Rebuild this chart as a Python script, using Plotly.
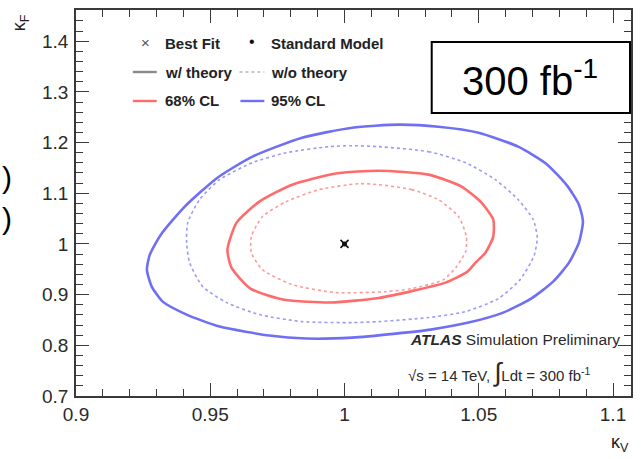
import plotly.graph_objects as go

# Likelihood contours in the (kappa_V, kappa_F) plane, 300 fb^-1 projection
blue_solid_kv = [1.0202, 1.0350, 1.0499, 1.0647, 1.0751, 1.0829, 1.0873, 1.0888, 1.0873, 1.0836,
                 1.0777, 1.0695, 1.0591, 1.0462, 1.0321, 1.0191, 1.0028, 0.9857, 0.9720, 0.9535,
                 0.9412, 0.9323, 0.9282, 0.9264, 0.9275, 0.9316, 0.9405, 0.9527, 0.9657, 0.9842,
                 1.0028, 1.0202]
blue_solid_kf = [1.2353, 1.2313, 1.2195, 1.1919, 1.1584, 1.1150, 1.0775, 1.0440, 1.0026, 0.9631,
                 0.9257, 0.8921, 0.8645, 0.8448, 0.8310, 0.8231, 0.8152, 0.8133, 0.8192, 0.8369,
                 0.8606, 0.8862, 0.9158, 0.9493, 0.9789, 1.0183, 1.0736, 1.1307, 1.1722, 1.2096,
                 1.2293, 1.2353]

blue_dot_kv = [1.0128, 1.0313, 1.0451, 1.0562, 1.0647, 1.0703, 1.0718, 1.0706, 1.0654, 1.0573,
               1.0451, 1.0313, 1.0128, 1.0028, 0.9842, 0.9683, 0.9561, 0.9472, 0.9423, 0.9412,
               0.9416, 0.9460, 0.9535, 0.9657, 0.9783, 0.9943, 1.0028, 1.0128]
blue_dot_kf = [1.1919, 1.1820, 1.1603, 1.1268, 1.0874, 1.0479, 1.0124, 0.9769, 0.9296, 0.8921,
               0.8665, 0.8547, 0.8468, 0.8448, 0.8468, 0.8606, 0.8842, 0.9158, 0.9631, 1.0026,
               1.0420, 1.0874, 1.1268, 1.1603, 1.1800, 1.1919, 1.1938, 1.1919]

red_solid_kv = [1.0128, 1.0313, 1.0436, 1.0510, 1.0554, 1.0554, 1.0525, 1.0488, 1.0458, 1.0376,
                1.0258, 1.0128, 0.9950, 0.9775, 0.9650, 0.9579, 0.9564, 0.9598, 0.9683, 0.9805,
                0.9968, 1.0128]
red_solid_kf = [1.1445, 1.1367, 1.1130, 1.0814, 1.0479, 1.0144, 0.9828, 0.9631, 0.9454, 0.9237,
                0.9079, 0.8935, 0.8845, 0.8900, 0.9120, 0.9533, 0.9888, 1.0420, 1.0834, 1.1169,
                1.1390, 1.1445]

red_dot_kv = [1.0128, 1.0250, 1.0350, 1.0425, 1.0454, 1.0451, 1.0417, 1.0369, 1.0250, 1.0154,
              0.9968, 0.9805, 0.9694, 0.9653, 0.9653, 0.9694, 0.9783, 0.9905, 1.0054, 1.0128]
red_dot_kf = [1.1169, 1.1071, 1.0874, 1.0538, 1.0144, 0.9848, 0.9552, 0.9296, 0.9118, 0.9059,
              0.9040, 0.9197, 0.9493, 0.9828, 1.0144, 1.0538, 1.0834, 1.1071, 1.1189, 1.1169]

best_fit = [1.0, 1.0]
standard_model = [1.0, 1.0]

x_tick_vals = [0.9, 0.95, 1.0, 1.05, 1.1]
x_tick_text = ["0.9", "0.95", "1", "1.05", "1.1"]
y_tick_vals = [0.7, 0.8, 0.9, 1.0, 1.1, 1.2, 1.3, 1.4]
y_tick_text = ["0.7", "0.8", "0.9", "1", "1.1", "1.2", "1.3", "1.4"]

RED = "#ff6b6b"
BLUE = "#6f6ff5"
FONT = "Liberation Sans, Arial, Helvetica, sans-serif"
AXC = "#3a3a3a"

fig = go.Figure()


def contour(xs, ys, color, width, dash):
    fig.add_trace(go.Scatter(x=xs, y=ys, mode="lines",
                             line=dict(color=color, width=width, dash=dash, shape="spline", smoothing=0.6),
                             hoverinfo="skip", showlegend=False))


contour(blue_solid_kv, blue_solid_kf, BLUE, 2.6, "solid")
contour(blue_dot_kv, blue_dot_kf, "#9a9af7", 1.6, "dot")
contour(red_solid_kv, red_solid_kf, RED, 2.6, "solid")
contour(red_dot_kv, red_dot_kf, "#ff9a9a", 1.6, "dot")

fig.add_trace(go.Scatter(x=[best_fit[0]], y=[best_fit[1]], mode="markers",
                         marker=dict(symbol="x-thin", size=8, line=dict(color="#111", width=1.6)),
                         hoverinfo="skip", showlegend=False))
fig.add_trace(go.Scatter(x=[standard_model[0]], y=[standard_model[1]], mode="markers",
                         marker=dict(symbol="circle", size=5, color="#111"),
                         hoverinfo="skip", showlegend=False))

# plot-area geometry (pixels) used to place the overlay items
PL, PT, PW, PH = 76, 10, 557, 386


def px(x):
    return (x - PL) / PW


def py(y):
    return (PT + PH - y) / PH


shapes = []
annotations = []


def text(x, y, s, size, anchor="left", color="#222", weight="normal", angle=0, yanchor="middle"):
    annotations.append(dict(x=px(x), y=py(y), xref="paper", yref="paper", text=s, showarrow=False,
                            xanchor=anchor, yanchor=yanchor, textangle=angle,
                            font=dict(family=FONT, size=size, color=color, weight=weight)))


def seg(x0, x1, y, color, width, dash="solid"):
    shapes.append(dict(type="line", xref="paper", yref="paper", x0=px(x0), x1=px(x1),
                       y0=py(y), y1=py(y), line=dict(color=color, width=width, dash=dash)))


# legend block
text(146, 43, "×", 15, anchor="center", color="#555")
text(163, 44, "Best Fit", 15, weight="bold")
text(253, 42, "•", 16, anchor="center", color="#111")
text(270, 44, "Standard Model", 15, weight="bold")
seg(133, 157, 72, "#8a8a8a", 2.4)
text(163, 72, "w/ theory", 15, weight="bold")
seg(240, 265, 72, "#b5b5b5", 1.5, "dot")
text(270, 72, "w/o theory", 15, weight="bold")
seg(133, 157, 101, RED, 2.4)
text(163, 101, "68% CL", 15, weight="bold")
seg(241, 265, 101, BLUE, 2.4)
text(270, 101, "95% CL", 15, weight="bold")

# luminosity box
shapes.append(dict(type="rect", xref="paper", yref="paper", x0=px(433), x1=px(632),
                   y0=py(113), y1=py(42), line=dict(color="black", width=2), fillcolor="white"))
text(532, 78, "300 fb<sup>-1</sup>", 40, anchor="center", color="black")

# experiment label
text(409, 339, "<b><i>ATLAS</i></b> Simulation Preliminary", 15.5, color="#2a2a2a")
text(407, 372, "√s = 14 TeV, <span style='font-size:26px'>∫</span>Ldt = 300 fb<sup>-1</sup>",
     15, color="#2a2a2a")

# axis titles
text(20, 23, "κ<sub>F</sub>", 18, anchor="center", color="#222", angle=-90)
text(622, 443, "κ<sub>V</sub>", 18, anchor="center", color="#222")

# text fragments at the left margin
text(0, 177, ")", 30, anchor="left", color="black")
text(0, 218, ")", 30, anchor="left", color="black")

axis_common = dict(showline=True, linecolor=AXC, linewidth=1.5, mirror="allticks",
                   ticks="inside", tickcolor=AXC, tickwidth=1.2, showgrid=False, zeroline=False,
                   tickfont=dict(family=FONT, size=19, color="#2a2a2a"), tickmode="array")

fig.update_layout(
    width=641, height=459,
    margin=dict(l=PL, r=641 - PL - PW, t=PT, b=459 - PT - PH),
    paper_bgcolor="white", plot_bgcolor="white",
    xaxis=dict(range=[0.9, 1.1067], tickvals=x_tick_vals, ticktext=x_tick_text, ticklen=13,
               minor=dict(tickmode="linear", tick0=0.9, dtick=0.01, ticks="inside", ticklen=7,
                          tickcolor=AXC, tickwidth=1), **axis_common),
    yaxis=dict(range=[0.7, 1.4615], tickvals=y_tick_vals, ticktext=y_tick_text, ticklen=13,
               ticklabelstandoff=2,
               minor=dict(tickmode="linear", tick0=0.7, dtick=0.02, ticks="inside", ticklen=7,
                          tickcolor=AXC, tickwidth=1), **axis_common),
    shapes=shapes,
    annotations=annotations,
    showlegend=False,
)

fig.write_html("out.html")
